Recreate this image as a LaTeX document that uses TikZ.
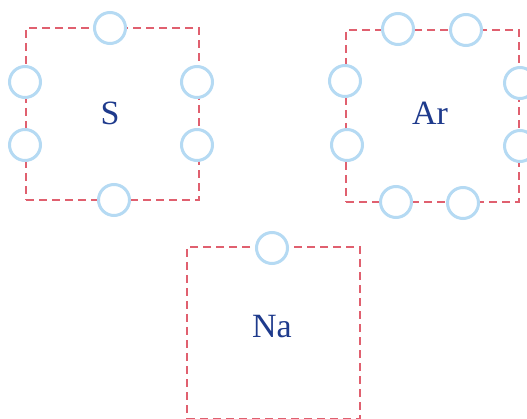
\documentclass[tikz,border=0pt]{standalone}
\usepackage{fontspec}
\setmainfont{Liberation Serif}
\usetikzlibrary{positioning}
\definecolor{shellred}{HTML}{E0606F}
\definecolor{elblue}{HTML}{B5DAF3}
\definecolor{symblue}{HTML}{1E3A8C}

\begin{document}
\begin{tikzpicture}[
  x=1pt, y=-1pt,
  shell/.style={draw=shellred, line width=2.2pt, dash pattern=on 8pt off 5pt,
                minimum width=173pt, minimum height=172pt, inner sep=0pt},
  electron/.style={circle, draw=elblue, line width=3pt, fill=white,
                   minimum size=31pt, inner sep=0pt},
  symbol/.style={text=symblue, font=\fontsize{34}{40}\selectfont}
]
\useasboundingbox (0,0) rectangle (527,419);

% Shells
\node[shell] (s) at (112.5,114) {};
\node[shell] (ar) at (432.5,116) {};
\node[shell] (na) at (273.5,333) {};

% Symbols
\node[symbol] (stext) at (110,113) {S};
\node[symbol] (artext) at (430,113) {Ar};
\node[symbol] (natext) at (272,327) {Na};

% Electrons of S
\node[electron] (s1) at (110,28) {};
\node[electron] (s2) at (25,82) {};
\node[electron] (s3) at (25,145) {};
\node[electron] (s4) at (197,82) {};
\node[electron] (s5) at (197,145) {};
\node[electron] (s6) at (114,200) {};

% Electrons of Ar
\node[electron] (ar1) at (398,29) {};
\node[electron] (ar2) at (466,30) {};
\node[electron] (ar3) at (345,81) {};
\node[electron] (ar4) at (347,145) {};
\node[electron] (ar5) at (520,83) {};
\node[electron] (ar6) at (520,146) {};
\node[electron] (ar7) at (396,202) {};
\node[electron] (ar8) at (463,203) {};

% Electron of Na
\node[electron] (na1) at (272,248) {};
\end{tikzpicture}
\end{document}
